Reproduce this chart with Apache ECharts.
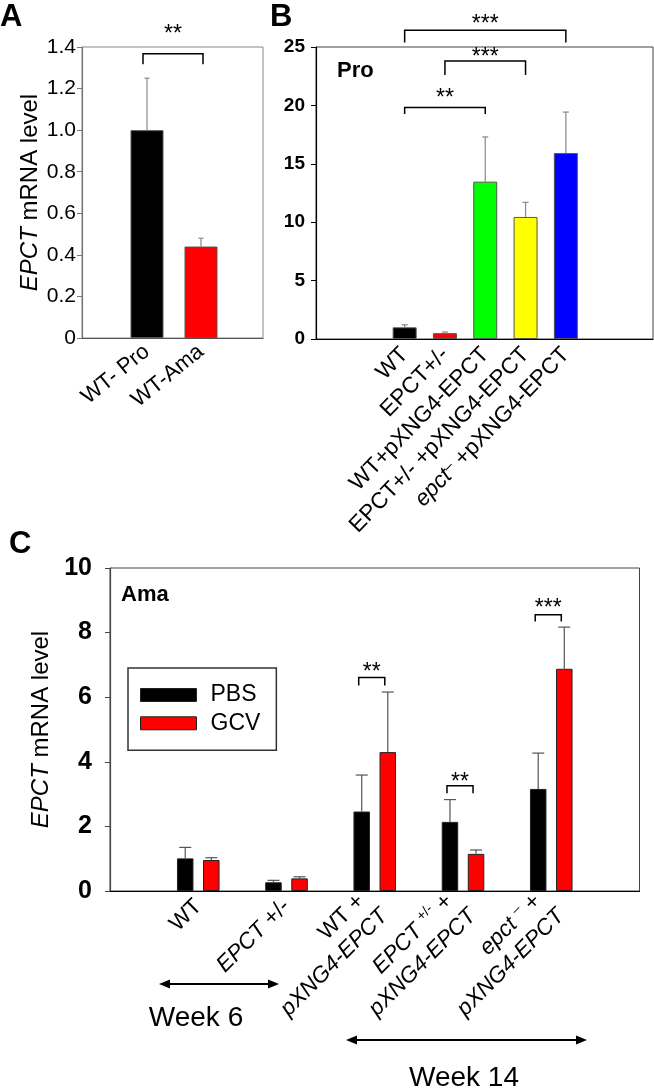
<!DOCTYPE html>
<html><head><meta charset="utf-8">
<script src="https://cdn.jsdelivr.net/npm/echarts@6/dist/echarts.min.js"></script>
<style>html,body{margin:0;padding:0;background:#fff}#c{width:654px;height:1090px}</style>
</head><body><div id="c"></div>
<script>
const FONT = "'Liberation Sans', Arial, sans-serif";

// ---------- Panel A ----------
const aCategories = ['WT- Pro', 'WT-Ama'];
const aValues = [1.0, 0.44];
const aErrors = [0.25, 0.04];
const aColors = ['#000000', '#ff0000'];
const aYTicks = ['0', '0.2', '0.4', '0.6', '0.8', '1.0', '1.2', '1.4'];
// [from index, to index, bracket y, leg end y, text y, text]
const aSig = [[0, 1, 1.367, 1.317, 1.49, '**']];

// ---------- Panel B ----------
const bCategories = ['WT', 'EPCT+/-', 'WT+pXNG4-EPCT', 'EPCT+/- +pXNG4-EPCT', 'epct– +pXNG4-EPCT'];
const bTickLabels = ['WT', 'EPCT+/-', 'WT+pXNG4-EPCT', 'EPCT+/- +pXNG4-EPCT', '{i|epct}{sup|–} +pXNG4-EPCT'];
const bValues = [1.0, 0.5, 13.47, 10.45, 15.92];
const bErrors = [0.22, 0.1, 3.83, 1.25, 3.51];
const bColors = ['#000000', '#ff0000', '#00ff00', '#ffff00', '#0000ff'];
const bSig = [
  [0, 2, 19.83, 19.26, 21.05, '**'],
  [1, 3, 23.81, 22.6, 24.64, '***'],
  [0, 4, 26.44, 25.38, 27.46, '***']
];

// ---------- Panel C ----------
const cCategories = ['WT', 'EPCT +/-', 'WT + pXNG4-EPCT', 'EPCT +/- + pXNG4-EPCT', 'epct – + pXNG4-EPCT'];
const cTickLabels = ['WT', '{i|EPCT} +/-', 'WT + \n{i|pXNG4-EPCT}', '{i|EPCT} {sup|+/-} + \n{i|pXNG4-EPCT}', '{i|epct} {sup|–} + \n{i|pXNG4-EPCT}'];
const cSeriesNames = ['PBS', 'GCV'];
const cPBS = [1.01, 0.27, 2.46, 2.14, 3.16];
const cPBSErr = [0.34, 0.06, 1.13, 0.69, 1.11];
const cGCV = [0.96, 0.39, 4.30, 1.15, 6.88];
const cGCVErr = [0.07, 0.05, 1.86, 0.12, 1.29];
// [group index, bracket y, leg end y, text y, text]  (from PBS bar to GCV bar)
const cSig = [
  [2, 6.61, 6.36, 6.95, '**'],
  [3, 3.26, 3.03, 3.54, '**'],
  [4, 8.55, 8.34, 8.92, '***']
];

// ---------- styles ----------
const C_BAR_W = 16.5, C_BAR_GAP = 0.58;
const C_OFF = C_BAR_W * (1 + C_BAR_GAP) / 2;

function errorRender(cap, color, lw, shift) {
  return function (params, api) {
    const i = api.value(0), v = api.value(1), e = api.value(2);
    const p0 = api.coord([i, v]);
    const p1 = api.coord([i, v + e]);
    const x = p0[0] + shift;
    return {
      type: 'group',
      children: [
        { type: 'line', shape: { x1: x, y1: p0[1], x2: x, y2: p1[1] }, style: { stroke: color, lineWidth: lw } },
        { type: 'line', shape: { x1: x - cap, y1: p1[1], x2: x + cap, y2: p1[1] }, style: { stroke: color, lineWidth: lw } }
      ]
    };
  };
}

function sigRender(sig, shiftL, shiftR) {
  return function (params, api) {
    const s = sig[params.dataIndex];
    const pa = api.coord([s[0], s[2]]);
    const pb = api.coord([s[1], s[2]]);
    const legY = api.coord([s[0], s[3]])[1];
    const tY = api.coord([s[0], s[4]])[1];
    const xa = pa[0] + shiftL, xb = pb[0] + shiftR, y = pa[1];
    return {
      type: 'group',
      children: [
        { type: 'polyline', shape: { points: [[xa, legY], [xa, y], [xb, y], [xb, legY]] }, style: { stroke: '#000', lineWidth: 1.5, fill: null } },
        { type: 'text', x: (xa + xb) / 2, y: tY + 6, style: { text: s[5], fill: '#000', fontSize: 23, fontFamily: FONT, align: 'center', verticalAlign: 'middle' } }
      ]
    };
  };
}

const cSigNorm = cSig.map(s => [s[0] + 1, s[0] + 1, s[1], s[2], s[3], s[4]]);
const padC = arr => ['-'].concat(arr, ['-']);

const option = {
  animation: false,
  backgroundColor: '#fff',
  textStyle: { fontFamily: FONT },
  grid: [
    { left: 82, top: 47, width: 181, height: 291, show: true, borderColor: '#888', borderWidth: 1 },
    { left: 120, top: 47, width: 108, height: 291 },
    { left: 316, top: 47, width: 337, height: 292, show: true, borderColor: '#444', borderWidth: 1 },
    { left: 384.5, top: 47, width: 201.5, height: 292 },
    { left: 110, top: 568, width: 529.5, height: 323, show: true, borderColor: '#444', borderWidth: 1 }
  ],
  xAxis: [
    { gridIndex: 0, type: 'value', min: 0, max: 1, axisLine: { show: true, onZero: false, lineStyle: { color: '#555', width: 1.2 } }, axisTick: { show: false }, axisLabel: { show: false }, splitLine: { show: false } },
    { gridIndex: 1, type: 'category', data: aCategories, axisLine: { show: false }, axisTick: { show: false },
      axisLabel: { interval: 0, rotate: 39, margin: 11, fontSize: 22, color: '#000', fontFamily: FONT } },
    { gridIndex: 2, type: 'value', min: 0, max: 1, axisLine: { show: true, onZero: false, lineStyle: { color: '#000', width: 1.2 } }, axisTick: { show: false }, axisLabel: { show: false }, splitLine: { show: false } },
    { gridIndex: 3, type: 'category', data: bCategories, axisLine: { show: false }, axisTick: { show: false },
      axisLabel: { interval: 0, rotate: 46, margin: 12, fontSize: 22.5, color: '#000', fontFamily: FONT,
        formatter: (v, i) => bTickLabels[i],
        rich: { i: { fontStyle: 'italic', fontSize: 22.5, fontFamily: FONT }, sup: { fontSize: 15, verticalAlign: 'top', fontFamily: FONT } } } },
    { gridIndex: 4, type: 'category', boundaryGap: false, data: [''].concat(cCategories, ['']),
      axisLine: { show: true, lineStyle: { color: '#000', width: 1.2 } }, axisTick: { show: false },
      axisLabel: { interval: 0, rotate: 45, margin: 12, fontSize: 22.5, lineHeight: 27, color: '#000', fontFamily: FONT,
        formatter: (v, i) => (i >= 1 && i <= cTickLabels.length) ? cTickLabels[i - 1] : '',
        rich: { i: { fontStyle: 'italic', fontSize: 22.5, lineHeight: 27, fontFamily: FONT }, sup: { fontSize: 14, lineHeight: 27, verticalAlign: 'top', fontFamily: FONT } } } }
  ],
  yAxis: [
    { gridIndex: 0, type: 'value', min: 0, max: 1.4, interval: 0.2,
      axisLine: { show: true, lineStyle: { color: '#777', width: 1.2 } }, axisTick: { show: true, length: 5, lineStyle: { color: '#777' } },
      splitLine: { show: false },
      axisLabel: { margin: 6, fontSize: 21, color: '#000', fontFamily: FONT, formatter: (v) => aYTicks[Math.round(v / 0.2)] },
      name: '{i|EPCT} mRNA level', nameLocation: 'middle', nameGap: 40, nameRotate: 90,
      nameTextStyle: { fontSize: 24, color: '#000', fontFamily: FONT, rich: { i: { fontStyle: 'italic', fontSize: 24, fontFamily: FONT } } } },
    { gridIndex: 1, type: 'value', min: 0, max: 1.4, show: false, splitLine: { show: false } },
    { gridIndex: 2, type: 'value', min: 0, max: 25, interval: 5,
      axisLine: { show: true, lineStyle: { color: '#000', width: 1.2 } }, axisTick: { show: true, length: 5, lineStyle: { color: '#000' } },
      splitLine: { show: false },
      axisLabel: { margin: 11, fontSize: 19, fontWeight: 'bold', color: '#000', fontFamily: FONT } },
    { gridIndex: 3, type: 'value', min: 0, max: 25, show: false, splitLine: { show: false } },
    { gridIndex: 4, type: 'value', min: 0, max: 10, interval: 2,
      axisLine: { show: true, lineStyle: { color: '#444', width: 1.2 } }, axisTick: { show: true, length: 5, lineStyle: { color: '#444' } },
      splitLine: { show: false },
      axisLabel: { margin: 18, fontSize: 25, fontWeight: 'bold', color: '#000', fontFamily: FONT },
      name: '{i|EPCT} mRNA level', nameLocation: 'middle', nameGap: 55, nameRotate: 90,
      nameTextStyle: { fontSize: 24, color: '#000', fontFamily: FONT, rich: { i: { fontStyle: 'italic', fontSize: 24, fontFamily: FONT } } } }
  ],
  legend: {
    data: cSeriesNames, orient: 'vertical', left: 128, top: 668,
    itemWidth: 56, itemHeight: 13, itemGap: 4.3,
    padding: [15, 16, 15, 12], borderColor: '#333', borderWidth: 1.5,
    icon: 'rect', itemStyle: { borderColor: '#222', borderWidth: 1 },
    textStyle: { fontSize: 23, lineHeight: 24, color: '#000', fontFamily: FONT, padding: [0, 0, 0, 9] }
  },
  series: [
    // Panel A
    { type: 'bar', xAxisIndex: 1, yAxisIndex: 1, barWidth: 33, z: 2,
      itemStyle: { borderColor: '#555', borderWidth: 1 },
      data: aValues.map((v, i) => ({ value: v, itemStyle: { color: aColors[i] } })) },
    { type: 'custom', xAxisIndex: 1, yAxisIndex: 1, z: 3, renderItem: errorRender(2.5, '#888', 1.2, 0),
      data: aValues.map((v, i) => [i, v, aErrors[i]]) },
    { type: 'custom', xAxisIndex: 1, yAxisIndex: 1, z: 3, renderItem: sigRender(aSig, -4, 2),
      data: aSig.map(s => [s[0], s[2]]) },
    // Panel B
    { type: 'bar', xAxisIndex: 3, yAxisIndex: 3, barWidth: 24, z: 2,
      itemStyle: { borderColor: '#555', borderWidth: 1 },
      data: bValues.map((v, i) => ({ value: v, itemStyle: { color: bColors[i] } })) },
    { type: 'custom', xAxisIndex: 3, yAxisIndex: 3, z: 3, renderItem: errorRender(3, '#888', 1.2, 0),
      data: bValues.map((v, i) => [i, v, bErrors[i]]) },
    { type: 'custom', xAxisIndex: 3, yAxisIndex: 3, z: 3, renderItem: sigRender(bSig, 0, 0),
      data: bSig.map(s => [s[0], s[2]]) },
    // Panel C
    { name: cSeriesNames[0], type: 'bar', xAxisIndex: 4, yAxisIndex: 4, barWidth: C_BAR_W, barGap: (C_BAR_GAP * 100) + '%', z: 2,
      itemStyle: { color: '#000000', borderColor: '#222', borderWidth: 1 }, data: padC(cPBS) },
    { name: cSeriesNames[1], type: 'bar', xAxisIndex: 4, yAxisIndex: 4, barWidth: C_BAR_W, barGap: (C_BAR_GAP * 100) + '%', z: 2,
      itemStyle: { color: '#ff0000', borderColor: '#222', borderWidth: 1 }, data: padC(cGCV) },
    { type: 'custom', xAxisIndex: 4, yAxisIndex: 4, z: 3, renderItem: errorRender(6, '#555', 1.2, -C_OFF),
      data: cPBS.map((v, i) => [i + 1, v, cPBSErr[i]]) },
    { type: 'custom', xAxisIndex: 4, yAxisIndex: 4, z: 3, renderItem: errorRender(6, '#555', 1.2, C_OFF),
      data: cGCV.map((v, i) => [i + 1, v, cGCVErr[i]]) },
    { type: 'custom', xAxisIndex: 4, yAxisIndex: 4, z: 3, renderItem: sigRender(cSigNorm, -C_OFF - 3, C_OFF - 3),
      data: cSigNorm.map(s => [s[0], s[2]]) }
  ],
  graphic: [
    { type: 'text', left: 0, top: 2, style: { text: 'A', fontSize: 31, fontWeight: 'bold', fill: '#000', fontFamily: FONT } },
    { type: 'text', left: 270, top: 2, style: { text: 'B', fontSize: 31, fontWeight: 'bold', fill: '#000', fontFamily: FONT } },
    { type: 'text', left: 9, top: 529, style: { text: 'C', fontSize: 31, fontWeight: 'bold', fill: '#000', fontFamily: FONT } },
    { type: 'text', left: 337, top: 60, style: { text: 'Pro', fontSize: 22, fontWeight: 'bold', fill: '#000', fontFamily: FONT } },
    { type: 'text', left: 121, top: 584, style: { text: 'Ama', fontSize: 22, fontWeight: 'bold', fill: '#000', fontFamily: FONT } },
    // Week 6 arrow
    { type: 'line', shape: { x1: 166, y1: 984, x2: 272, y2: 984 }, style: { stroke: '#000', lineWidth: 2 } },
    { type: 'polygon', shape: { points: [[159, 984], [170, 979.5], [170, 988.5]] }, style: { fill: '#000' } },
    { type: 'polygon', shape: { points: [[279, 984], [268, 979.5], [268, 988.5]] }, style: { fill: '#000' } },
    { type: 'text', x: 196, y: 1018, style: { text: 'Week 6', fontSize: 28, fill: '#000', fontFamily: FONT, align: 'center', verticalAlign: 'middle' } },
    // Week 14 arrow
    { type: 'line', shape: { x1: 352, y1: 1040, x2: 580, y2: 1040 }, style: { stroke: '#000', lineWidth: 2 } },
    { type: 'polygon', shape: { points: [[346, 1040], [357, 1035.5], [357, 1044.5]] }, style: { fill: '#000' } },
    { type: 'polygon', shape: { points: [[587, 1040], [576, 1035.5], [576, 1044.5]] }, style: { fill: '#000' } },
    { type: 'text', x: 464, y: 1078, style: { text: 'Week 14', fontSize: 28, fill: '#000', fontFamily: FONT, align: 'center', verticalAlign: 'middle' } }
  ]
};

const chart = echarts.init(document.getElementById('c'), null, { renderer: 'canvas' });
chart.setOption(option);
</script>
</body></html>
